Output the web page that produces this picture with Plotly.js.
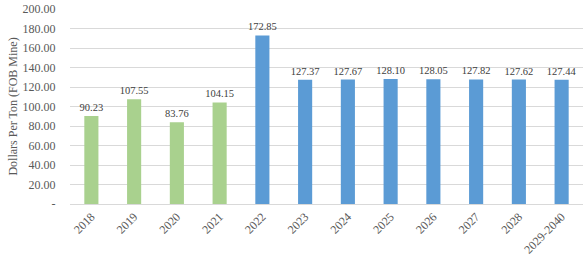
<!DOCTYPE html>
<html>
<head>
<meta charset="utf-8">
<script src="https://cdn.plot.ly/plotly-3.0.1.min.js"></script>
<style>html,body{margin:0;padding:0;background:#fff;}#chart{width:588px;height:263px;}</style>
</head>
<body>
<div id="chart"></div>
<script>
const categories = ["2018","2019","2020","2021","2022","2023","2024","2025","2026","2027","2028","2029-2040"];
const values = [90.23,107.55,83.76,104.15,172.85,127.37,127.67,128.10,128.05,127.82,127.62,127.44];
const isForecast = [false,false,false,false,true,true,true,true,true,true,true,true];
const yTickVals = [0,20,40,60,80,100,120,140,160,180,200];
const yTickText = ["-","20.00","40.00","60.00","80.00","100.00","120.00","140.00","160.00","180.00","200.00"];

const colors = isForecast.map(f => f ? "#5B9BD5" : "#A9D18E");

const trace = {
  type: "bar",
  x: categories,
  y: values,
  marker: {color: colors},
  width: 0.33,
  text: values.map(v => v.toFixed(2)),
  textposition: "outside",
  constraintext: "none",
  cliponaxis: false,
  textfont: {family: "Liberation Serif", size: 10.5, color: "#404040"},
  hoverinfo: "none"
};

const layout = {
  width: 588, height: 263,
  margin: {l: 70, r: 5, t: 9, b: 59},
  paper_bgcolor: "#fff", plot_bgcolor: "#fff",
  showlegend: false,
  font: {family: "Liberation Serif", color: "#595959"},
  xaxis: {
    type: "category",
    tickangle: -45,
    tickfont: {family: "Liberation Serif", size: 12, color: "#595959"},
    showgrid: false,
    showline: true, linecolor: "#D9D9D9", linewidth: 1,
    ticks: "", automargin: false
  },
  yaxis: {
    range: [0, 200],
    tickvals: yTickVals, ticktext: yTickText,
    tickfont: {family: "Liberation Serif", size: 12, color: "#595959"},
    showgrid: true, gridcolor: "#D9D9D9", gridwidth: 1,
    zeroline: false, showline: false,
    ticks: "outside", ticklen: 11, tickcolor: "rgba(0,0,0,0)",
    automargin: false,
    title: {text: "Dollars Per Ton (FOB Mine)", font: {family: "Liberation Serif", size: 12, color: "#595959"}, standoff: 2}
  },
  bargap: 0.67
};

Plotly.newPlot("chart", [trace], layout, {staticPlot: true, displayModeBar: false});
</script>
</body>
</html>
